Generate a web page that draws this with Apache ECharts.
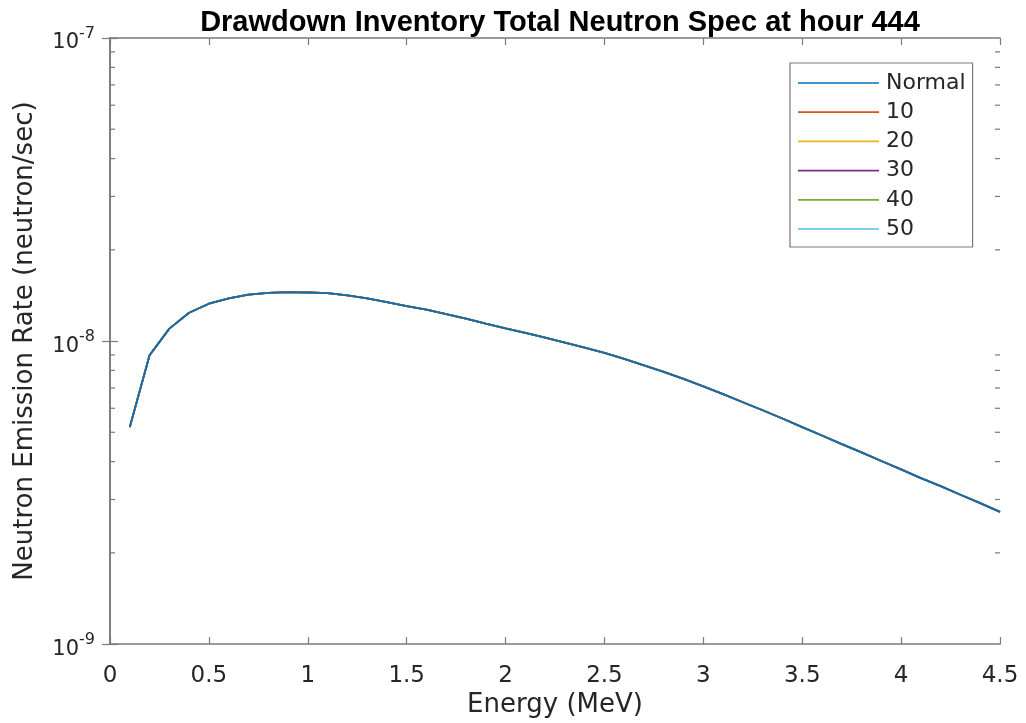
<!DOCTYPE html>
<html>
<head>
<meta charset="utf-8">
<script src="https://cdn.jsdelivr.net/npm/echarts@6/dist/echarts.min.js"></script>
<style>
html,body{margin:0;padding:0;background:#fff;}
#chart{width:1026px;height:723px;}
</style>
</head>
<body>
<div id="chart"></div>
<script>
// ---- data ----
var energy = [0.1,0.2,0.3,0.4,0.5,0.6,0.7,0.8,0.9,1.0,1.1,1.2,1.3,1.4,1.5,1.6,1.7,1.8,1.9,2.0,2.1,2.2,2.3,2.4,2.5,2.6,2.7,2.8,2.9,3.0,3.1,3.2,3.3,3.4,3.5,3.6,3.7,3.8,3.9,4.0,4.1,4.2,4.3,4.4,4.5];
var normal = [5.20e-9,8.98e-9,1.099e-8,1.240e-8,1.328e-8,1.384e-8,1.422e-8,1.443e-8,1.450e-8,1.446e-8,1.440e-8,1.416e-8,1.384e-8,1.343e-8,1.303e-8,1.269e-8,1.226e-8,1.186e-8,1.141e-8,1.101e-8,1.064e-8,1.027e-8,9.89e-9,9.52e-9,9.14e-9,8.73e-9,8.31e-9,7.91e-9,7.50e-9,7.09e-9,6.68e-9,6.28e-9,5.91e-9,5.55e-9,5.20e-9,4.88e-9,4.57e-9,4.29e-9,4.02e-9,3.77e-9,3.53e-9,3.32e-9,3.11e-9,2.92e-9,2.73e-9];
// the other cases lie exactly under the Normal curve in the reference
var case10 = normal.slice();
var case20 = normal.slice();
var case30 = normal.slice();
var case40 = normal.slice();
var case50 = normal.slice();
var seriesNames = ['Normal','10','20','30','40','50'];
var seriesColors = ['#0072BD','#D95319','#EDB120','#7E2F8E','#77AC30','#4DBEEE'];
var minorTickValues = [2e-9,3e-9,4e-9,5e-9,6e-9,7e-9,8e-9,9e-9,2e-8,3e-8,4e-8,5e-8,6e-8,7e-8,8e-8,9e-8];
var xMin = 0, xMax = 4.5, xInterval = 0.5;
var yMin = 1e-9, yMax = 1e-7;
var titleText = 'Drawdown Inventory Total Neutron Spec at hour 444';
var xName = 'Energy (MeV)';
var yName = 'Neutron Emission Rate (neutron/sec)';

// ---- chart ----
var axisColor = '#7a7a7a';
var textColor = '#262626';
var font = 'DejaVu Sans, sans-serif';
function pairs(ys){ return energy.map(function(x,i){ return [x, ys[i]]; }); }
var allData = [normal, case10, case20, case30, case40, case50];

var lineSeries = seriesNames.map(function(n, i){
  return {
    name: n, type: 'line', xAxisIndex: 0, yAxisIndex: 0,
    data: pairs(allData[i]),
    symbol: 'none', showSymbol: false,
    lineStyle: {color: seriesColors[i], width: 1.8},
    itemStyle: {color: seriesColors[i]},
    z: i === 0 ? 10 : 5 - i,
    animation: false
  };
});

var minorSeries = {
  type: 'custom', xAxisIndex: 0, yAxisIndex: 0,
  data: minorTickValues.map(function(v){ return [xMin, v]; }),
  clip: false, silent: true, animation: false, z: 20,
  renderItem: function(params, api){
    var v = api.value(1);
    var l = api.coord([xMin, v]);
    var r = api.coord([xMax, v]);
    var len = 5;
    var st = {stroke: axisColor, lineWidth: 1.2};
    return {type: 'group', children: [
      {type:'line', shape:{x1:l[0], y1:l[1], x2:l[0]+len, y2:l[1]}, style: st},
      {type:'line', shape:{x1:r[0], y1:r[1], x2:r[0]-len, y2:r[1]}, style: st}
    ]};
  }
};

function yLabel(v){
  var e = Math.round(Math.log10(v));
  return '{b|10}{s|' + e + '}';
}
var yRich = {
  b: {fontSize: 21, fontFamily: font, color: textColor, padding:[10,0,0,0]},
  s: {fontSize: 16, fontFamily: font, color: textColor, padding:[0,0,9,0]}
};

var option = {
  backgroundColor: '#ffffff',
  animation: false,
  title: {
    text: titleText, left: 555, top: 3, textAlign: 'center',
    textStyle: {fontSize: 29, fontWeight: 'bold', fontFamily: 'Liberation Sans, Arial, sans-serif', color: '#000'}
  },
  legend: {
    data: seriesNames, orient: 'vertical', left: 790, top: 63,
    padding: [9, 7, 7, 8],
    itemWidth: 81, itemHeight: 14, itemGap: 7.2,
    borderColor: axisColor, borderWidth: 1.2, backgroundColor: '#fff',
    textStyle: {fontSize: 22, lineHeight: 22, fontFamily: font, color: textColor, padding:[0,0,0,2]},
    icon: 'path://M0,0 L80,0 L80,1.7 L0,1.7 Z'
  },
  grid: {left: 110, top: 38, width: 890, height: 609, containLabel: false},
  xAxis: [{
    type: 'value', min: xMin, max: xMax, interval: xInterval,
    name: xName, nameLocation: 'middle', nameGap: 46,
    nameTextStyle: {fontSize: 26, fontFamily: font, color: textColor},
    axisLine: {show: true, lineStyle: {color: axisColor, width: 1.6}},
    axisTick: {show: true, inside: true, length: 7, lineStyle: {color: axisColor, width: 1.2}},
    axisLabel: {fontSize: 23, fontFamily: font, color: textColor, margin: 20},
    splitLine: {show: false}
  }, {
    type: 'value', min: xMin, max: xMax, interval: xInterval, position: 'top',
    axisLine: {show: true, lineStyle: {color: axisColor, width: 1.6}},
    axisTick: {show: true, inside: true, length: 7, lineStyle: {color: axisColor, width: 1.2}},
    axisLabel: {show: false}, splitLine: {show: false}
  }],
  yAxis: [{
    type: 'log', logBase: 10, min: yMin, max: yMax,
    name: yName, nameLocation: 'middle', nameGap: 72, nameRotate: 90,
    nameTextStyle: {fontSize: 26, fontFamily: font, color: textColor},
    axisLine: {show: true, lineStyle: {color: axisColor, width: 1.6}},
    axisTick: {show: true, inside: true, length: 8, lineStyle: {color: axisColor, width: 1.2}},
    axisLabel: {formatter: yLabel, rich: yRich, margin: 15},
    splitLine: {show: false}
  }, {
    type: 'log', logBase: 10, min: yMin, max: yMax, position: 'right',
    axisLine: {show: true, lineStyle: {color: axisColor, width: 1.6}},
    axisTick: {show: true, inside: true, length: 8, lineStyle: {color: axisColor, width: 1.2}},
    axisLabel: {show: false}, splitLine: {show: false}
  }],
  series: lineSeries.concat([minorSeries])
};

var chart = echarts.init(document.getElementById('chart'), null, {renderer: 'canvas'});
chart.setOption(option);
</script>
</body>
</html>
